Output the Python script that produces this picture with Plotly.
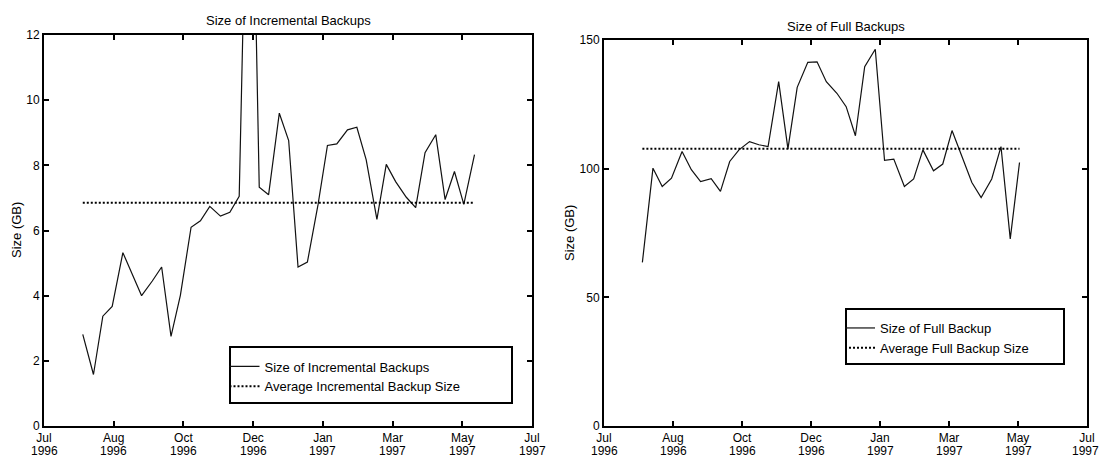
import plotly.graph_objects as go
import pandas as pd

# ---------------- data ----------------
dates = ["1996-07-30", "1996-08-07", "1996-08-14", "1996-08-21", "1996-08-29", "1996-09-05",
         "1996-09-12", "1996-09-20", "1996-09-27", "1996-10-04", "1996-10-11", "1996-10-19",
         "1996-10-26", "1996-11-02", "1996-11-10", "1996-11-17", "1996-11-24", "1996-12-02",
         "1996-12-09", "1996-12-16", "1996-12-24", "1996-12-31", "1997-01-07", "1997-01-14",
         "1997-01-22", "1997-01-29", "1997-02-05", "1997-02-13", "1997-02-20", "1997-02-27",
         "1997-03-07", "1997-03-14", "1997-03-21", "1997-03-29", "1997-04-05", "1997-04-12",
         "1997-04-20", "1997-04-27", "1997-05-04", "1997-05-11", "1997-05-19"]

incremental_gb = [2.81, 1.58, 3.37, 3.67, 5.32, 4.65, 4.0, 4.45, 4.88, 2.75, 4.01, 6.1,
                  6.3, 6.74, 6.44, 6.56, 7.05, 22.0, 7.33, 7.1, 9.6, 8.76, 4.88, 5.03,
                  6.8, 8.61, 8.66, 9.09, 9.17, 8.17, 6.34, 8.03, 7.5, 7.02, 6.7, 8.39,
                  8.94, 6.95, 7.81, 6.8, 8.33]
incremental_avg = 6.85

full_dates = dates[:40]
full_gb = [63.6, 100.2, 93.1, 96.3, 106.7, 99.6, 95.0, 96.1, 91.2, 102.8, 107.3, 110.5,
           109.3, 108.6, 133.8, 107.7, 131.6, 141.3, 141.5, 133.8, 129.3, 124.1, 112.8, 139.6,
           146.4, 103.2, 103.7, 93.1, 96.0, 107.3, 99.2, 101.8, 114.8, 104.1, 94.6, 88.8,
           96.0, 108.6, 72.7, 102.4]
full_avg = 107.7

month_labels = ["Jul", "Aug", "Oct", "Dec", "Jan", "Mar", "May", "Jul"]
year_labels = ["1996", "1996", "1996", "1996", "1997", "1997", "1997", "1997"]
x_start, x_end = "1996-07-01", "1997-07-01"

# ---------------- figure ----------------
W, H = 1099, 457
FONT = "Liberation Sans, Arial, Helvetica, sans-serif"


def fx(p):
    return p / W


def fy(p):
    return 1 - p / H


tickvals = pd.date_range(x_start, x_end, periods=len(month_labels))

fig = go.Figure()
fig.add_trace(go.Scatter(x=dates, y=incremental_gb, mode="lines", name="Size of Incremental Backups",
                         line=dict(color="#111", width=1.2), xaxis="x", yaxis="y", legend="legend"))
fig.add_trace(go.Scatter(x=[dates[0], dates[-1]], y=[incremental_avg, incremental_avg], mode="lines",
                         name="Average Incremental Backup Size",
                         line=dict(color="black", width=2, dash="2px,2px"), xaxis="x", yaxis="y",
                         legend="legend"))
fig.add_trace(go.Scatter(x=full_dates, y=full_gb, mode="lines", name="Size of Full Backup",
                         line=dict(color="#111", width=1.2), xaxis="x2", yaxis="y2", legend="legend2"))
fig.add_trace(go.Scatter(x=[full_dates[0], full_dates[-1]], y=[full_avg, full_avg], mode="lines",
                         name="Average Full Backup Size",
                         line=dict(color="black", width=2, dash="2px,2px"), xaxis="x2", yaxis="y2",
                         legend="legend2"))

tickfont = dict(family=FONT, size=12, color="black")
axis_common = dict(showline=True, linecolor="black", linewidth=2, mirror="ticks", ticks="inside",
                   ticklen=5, tickwidth=2, tickcolor="black", showgrid=False, zeroline=False,
                   automargin=False, tickfont=tickfont)

# year line of the two-line date tick labels (placed under the month names)
year_annotations = []
for xref in ("x", "x2"):
    n = len(tickvals)
    for i, (tv, yl) in enumerate(zip(tickvals, year_labels)):
        year_annotations.append(dict(text=yl, x=tv, y=fy(450.5), xref=xref, yref="paper",
                                     showarrow=False, xanchor="center", yanchor="middle",
                                     borderpad=0, xshift=(-2 if (xref == "x2" and i == n - 1) else 0),
                                     font=tickfont))

fig.update_layout(
    template="none",
    width=W, height=H, autosize=False,
    margin=dict(l=0, r=0, t=0, b=0, pad=0),
    paper_bgcolor="white", plot_bgcolor="white",
    font=dict(family=FONT, size=13, color="black"),
    xaxis=dict(domain=[fx(44), fx(532)], anchor="y", type="date", range=[x_start, x_end],
               tickvals=tickvals, ticktext=month_labels, **axis_common),
    yaxis=dict(domain=[fy(426), fy(35)], anchor="x", range=[0, 12], tickvals=[0, 2, 4, 6, 8, 10, 12],
               **axis_common),
    xaxis2=dict(domain=[fx(604), fx(1087)], anchor="y2", type="date", range=[x_start, x_end],
                tickvals=tickvals, ticktext=month_labels, **axis_common),
    yaxis2=dict(domain=[fy(426), fy(40)], anchor="x2", range=[0, 150], tickvals=[0, 50, 100, 150],
                **axis_common),
    legend=dict(x=fx(224.5), y=fy(351.5), xanchor="left", yanchor="top", bgcolor="rgba(0,0,0,0)",
                borderwidth=0, font=dict(family=FONT, size=13), tracegroupgap=0),
    legend2=dict(x=fx(840), y=fy(313), xanchor="left", yanchor="top", bgcolor="rgba(0,0,0,0)",
                 borderwidth=0, font=dict(family=FONT, size=13), tracegroupgap=0),
    shapes=[
        dict(type="rect", xref="paper", yref="paper", x0=fx(230), x1=fx(512), y0=fy(403),
             y1=fy(347), line=dict(color="black", width=2), fillcolor="rgba(0,0,0,0)"),
        dict(type="rect", xref="paper", yref="paper", x0=fx(846), x1=fx(1064), y0=fy(364),
             y1=fy(309), line=dict(color="black", width=2), fillcolor="rgba(0,0,0,0)"),
    ],
    annotations=[
        dict(text="Size of Incremental Backups", x=fx(288), y=fy(20), xref="paper", yref="paper",
             showarrow=False, xanchor="center", yanchor="middle", font=dict(size=13)),
        dict(text="Size of Full Backups", x=fx(846), y=fy(26), xref="paper", yref="paper",
             showarrow=False, xanchor="center", yanchor="middle", font=dict(size=13)),
        dict(text="Size (GB)", x=fx(17), y=fy(230), xref="paper", yref="paper", textangle=-90,
             showarrow=False, xanchor="center", yanchor="middle", font=dict(size=13)),
        dict(text="Size (GB)", x=fx(570), y=fy(233), xref="paper", yref="paper", textangle=-90,
             showarrow=False, xanchor="center", yanchor="middle", font=dict(size=13)),
    ] + year_annotations,
)

fig.write_html("out.html", config={"displayModeBar": False},
               post_script="document.body.style.margin='0';")
